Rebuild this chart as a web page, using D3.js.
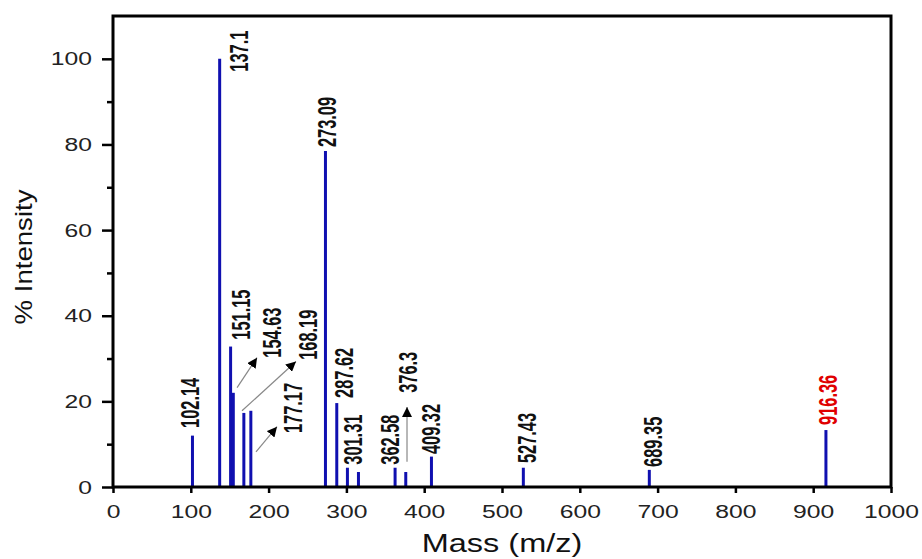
<!DOCTYPE html>
<html>
<head>
<meta charset="utf-8">
<script src="https://cdn.jsdelivr.net/npm/d3@7"></script>
<style>
  body { margin: 0; background: #fff; }
  .tick text { font-family: "Liberation Sans", Arial, sans-serif; font-size: 19px; fill: #222; }
  .tick line { stroke: #000; stroke-width: 2.5px; }
  .peak { stroke: #1010b0; stroke-width: 3px; }
  .lbl { font-family: "Liberation Sans", Arial, sans-serif; font-weight: bold; font-size: 20px; fill: #111; }
  .title { font-family: "Liberation Sans", Arial, sans-serif; fill: #111; }
</style>
</head>
<body>
<svg id="chart" width="922" height="559"></svg>
<script>
// peaks (m/z and % intensity)
var mz = [102.14, 137.1, 151.15, 154.63, 168.19, 177.17, 273.09, 287.62, 301.31, 315.5, 362.58, 376.3, 409.32, 527.43, 689.35, 916.36];
var intensity = [12, 100, 32.8, 22, 17.3, 17.8, 78.5, 19.6, 4.5, 3.5, 4.5, 3.5, 7.1, 4.5, 4, 13.3];

// peak labels: text, anchor (m/z, intensity) of the label bottom
var labelText = ['102.14', '137.1', '151.15', '154.63', '168.19', '177.17', '273.09', '287.62', '301.31', '362.58', '376.3', '409.32', '527.43', '689.35', '916.36'];
var labelMz = [98.5, 161.5, 164, 204, 250.5, 231.5, 275, 297, 308, 355, 379, 408.5, 532, 694, 918];
var labelInt = [13.8, 97, 34.4, 30.2, 29.7, 12.6, 79.4, 20.8, 5.2, 5.2, 22, 7.7, 5.6, 4.7, 14.5];
var labelColor = ['#111', '#111', '#111', '#111', '#111', '#111', '#111', '#111', '#111', '#111', '#111', '#111', '#111', '#111', '#e00000'];

// arrows: from (m/z, int) to (m/z, int)
var arrows = [
  [159.5, 23.2, 185.1, 30.2],
  [165.8, 17.8, 235.2, 29.3],
  [183.8, 8.2, 210.8, 14.1],
  [377.9, 5.9, 377.9, 18.7]
];

var xTicks = [0, 100, 200, 300, 400, 500, 600, 700, 800, 900, 1000];
var yTicks = [0, 20, 40, 60, 80, 100];
var yMinor = [10, 30, 50, 70, 90];

var margin = {left: 113, top: 16, right: 31, bottom: 72};
var width = 922 - margin.left - margin.right;
var height = 559 - margin.top - margin.bottom;

var svg = d3.select('#chart');
var g = svg.append('g').attr('transform', 'translate(' + margin.left + ',' + margin.top + ')');

var x = d3.scaleLinear().domain([0, 1000]).range([0, width]);
var y = d3.scaleLinear().domain([0, 110]).range([height, 0]);

svg.append('defs').append('marker')
  .attr('id', 'arrow')
  .attr('viewBox', '0 0 10 10')
  .attr('refX', 10).attr('refY', 5)
  .attr('markerWidth', 10).attr('markerHeight', 10)
  .attr('markerUnits', 'userSpaceOnUse')
  .attr('orient', 'auto')
  .append('path').attr('d', 'M0,0 L10,5 L0,10 Z').attr('fill', '#000');

// axes
var xAxis = g.append('g')
  .attr('transform', 'translate(0,' + height + ')')
  .call(d3.axisBottom(x).tickValues(xTicks).tickSize(6).tickPadding(12).tickFormat(d3.format('d')));
xAxis.selectAll('.tick text').attr('transform', 'scale(1.3,1)');

var yAxis = g.append('g')
  .call(d3.axisLeft(y).tickValues(yTicks).tickSize(11).tickPadding(6));
yAxis.selectAll('.tick text').attr('x', -21 / 1.3).attr('transform', 'scale(1.3,1)');

g.append('g')
  .call(d3.axisLeft(y).tickValues(yMinor).tickSize(6).tickFormat(''));

g.selectAll('.domain').remove();

// peaks
g.selectAll('line.peak')
  .data(mz)
  .enter()
  .append('line')
  .attr('class', 'peak')
  .attr('x1', d => x(d))
  .attr('x2', d => x(d))
  .attr('y1', y(0))
  .attr('y2', (d, i) => y(intensity[i]));

// arrows
g.selectAll('line.arr')
  .data(arrows)
  .enter()
  .append('line')
  .attr('class', 'arr')
  .attr('x1', d => x(d[0])).attr('y1', d => y(d[1]))
  .attr('x2', d => x(d[2])).attr('y2', d => y(d[3]))
  .attr('stroke', '#888')
  .attr('stroke-width', 1.2)
  .attr('marker-end', 'url(#arrow)');

// labels (narrow bold, rotated, widened across like the rest of the figure)
g.selectAll('text.lbl')
  .data(labelText)
  .enter()
  .append('text')
  .attr('class', 'lbl')
  .attr('transform', (d, i) => 'translate(' + x(labelMz[i]) + ',' + y(labelInt[i]) + ') rotate(-90) scale(0.82,1.3)')
  .attr('dy', '0.36em')
  .style('fill', (d, i) => labelColor[i])
  .text(d => d);

// frame
g.append('rect')
  .attr('width', width).attr('height', height)
  .attr('fill', 'none').attr('stroke', '#000').attr('stroke-width', 3);

// titles
svg.append('text')
  .attr('class', 'title')
  .attr('transform', 'translate(' + (margin.left + width / 2) + ',552) scale(1.3,1)')
  .attr('text-anchor', 'middle')
  .style('font-size', '25px')
  .text('Mass (m/z)');

svg.append('text')
  .attr('class', 'title')
  .attr('transform', 'translate(32,257) rotate(-90)')
  .attr('text-anchor', 'middle')
  .attr('textLength', 135)
  .attr('lengthAdjust', 'spacingAndGlyphs')
  .style('font-size', '24px')
  .text('% Intensity');
</script>
</body>
</html>
